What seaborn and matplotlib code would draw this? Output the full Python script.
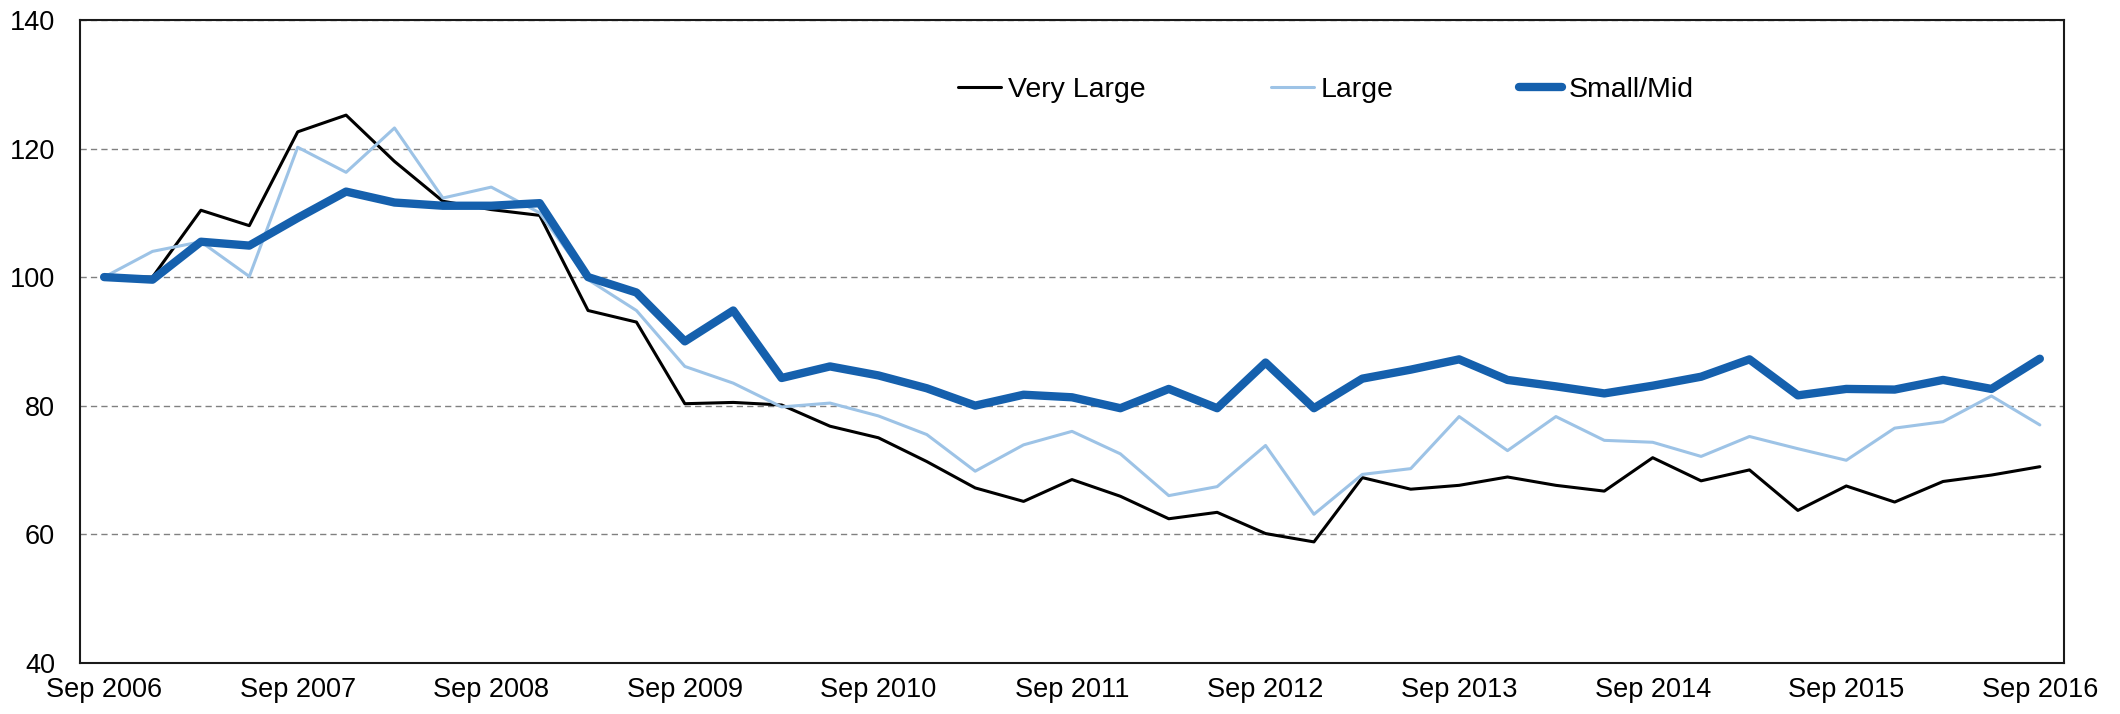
import numpy as np
import pandas as pd
import matplotlib
matplotlib.use("Agg")
import matplotlib.pyplot as plt
import seaborn as sns

# quarterly index values, Sep 2006 = 100
very_large = [100.0, 100.0, 110.4, 108.0, 122.6, 125.2, 118.0, 111.8, 110.5, 109.6,
              94.8, 93.0, 80.3, 80.5, 80.1, 76.8, 75.0, 71.3, 67.2, 65.1,
              68.5, 65.9, 62.4, 63.4, 60.1, 58.8, 68.8, 67.0, 67.6, 68.9,
              67.6, 66.7, 71.9, 68.3, 70.0, 63.7, 67.5, 65.0, 68.2, 69.2, 70.5]
large = [100.0, 104.0, 105.5, 100.1, 120.2, 116.3, 123.2, 112.3, 114.0, 110.0,
         99.6, 94.8, 86.1, 83.5, 79.8, 80.4, 78.4, 75.5, 69.8, 73.9,
         76.0, 72.5, 66.0, 67.4, 73.8, 63.1, 69.3, 70.2, 78.3, 73.0,
         78.3, 74.6, 74.3, 72.1, 75.2, 73.3, 71.5, 76.5, 77.5, 81.5, 77.0]
small_mid = [100.0, 99.6, 105.5, 104.9, 109.2, 113.3, 111.6, 111.1, 111.1, 111.5,
             100.0, 97.6, 90.0, 94.8, 84.3, 86.1, 84.7, 82.7, 80.0, 81.7,
             81.3, 79.6, 82.6, 79.6, 86.7, 79.6, 84.2, 85.6, 87.2, 84.0,
             83.0, 81.9, 83.1, 84.5, 87.2, 81.6, 82.6, 82.5, 84.0, 82.6, 87.3]
tick_labels = ["Sep 2006", "Sep 2007", "Sep 2008", "Sep 2009", "Sep 2010", "Sep 2011",
               "Sep 2012", "Sep 2013", "Sep 2014", "Sep 2015", "Sep 2016"]

quarter = np.arange(len(very_large))

sns.set_style("white")
plt.rcParams["font.family"] = ["Liberation Sans", "DejaVu Sans"]
plt.rcParams["text.color"] = "black"
plt.rcParams["xtick.color"] = "black"
plt.rcParams["ytick.color"] = "black"

fig = plt.figure(figsize=(21.2, 7.14), dpi=100)
ax = fig.add_axes([0.0377, 0.0718, 0.9359, 0.9002])

sns.lineplot(x=quarter, y=very_large, ax=ax, color="black", linewidth=2.2,
             label="Very Large")
sns.lineplot(x=quarter, y=large, ax=ax, color="#9dc3e6", linewidth=2.2,
             label="Large")
sns.lineplot(x=quarter, y=small_mid, ax=ax, color="#1560ad", linewidth=6,
             label="Small/Mid", solid_capstyle="round")

ax.set_xlim(-0.5, 40.5)
ax.set_ylim(40, 140)
ax.set_yticks(np.arange(40, 141, 20))
ax.set_xticks(np.arange(0, 41, 4))
ax.set_xticklabels(tick_labels)
ax.tick_params(axis="y", direction="in", length=6, width=1.5, color="#231f20",
               pad=18, labelsize=19.5)
ax.tick_params(axis="x", length=0, pad=10, labelsize=19.5)

ax.yaxis.grid(True, color="#808080", linewidth=1.0, linestyle=(0, (4.5, 3)))
ax.set_axisbelow(True)
for s in ax.spines.values():
    s.set_visible(True)
    s.set_color("#1a1a1a")
    s.set_linewidth(1.5)

ax.legend(loc="center", bbox_to_anchor=(0.628, 0.891), ncol=3, frameon=False,
          fontsize=20.5, handlelength=1.5, handletextpad=0.25, columnspacing=4.4)

fig.savefig("out.png", dpi=100)
